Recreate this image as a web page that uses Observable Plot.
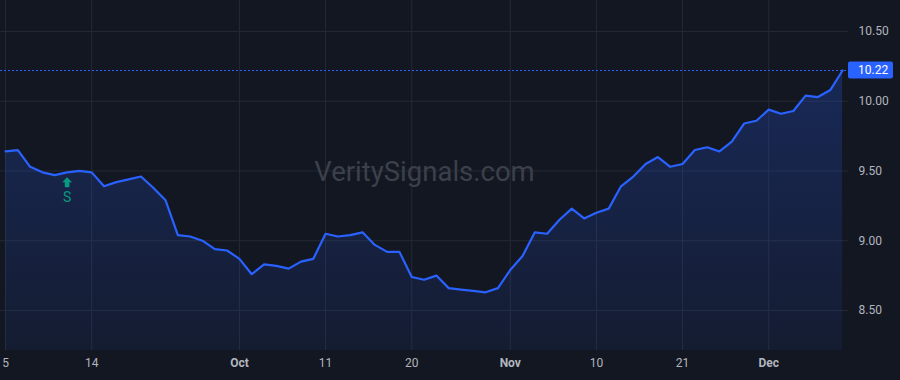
<!DOCTYPE html>
<html><head><meta charset="utf-8">
<script src="https://cdn.jsdelivr.net/npm/d3@7"></script>
<script src="https://cdn.jsdelivr.net/npm/@observablehq/plot@0.6"></script>
<style>
html,body{margin:0;padding:0;background:#131722;}
#chart{width:900px;height:380px;overflow:hidden}
</style></head><body><div id="chart"></div>
<script>
// Trading-day closes, Sep 5 – Dec 11 (one per session)
const values = [9.64, 9.65, 9.53, 9.49, 9.47, 9.49, 9.50, 9.49, 9.39, 9.42,
  9.44, 9.46, 9.38, 9.29, 9.04, 9.03, 9.00, 8.94, 8.93, 8.87,
  8.76, 8.83, 8.82, 8.80, 8.85, 8.87, 9.05, 9.03, 9.04, 9.06,
  8.97, 8.92, 8.92, 8.74, 8.72, 8.75, 8.66, 8.65, 8.64, 8.63,
  8.66, 8.79, 8.89, 9.06, 9.05, 9.15, 9.23, 9.16, 9.20, 9.23,
  9.39, 9.46, 9.55, 9.60, 9.53, 9.55, 9.65, 9.67, 9.64, 9.71,
  9.84, 9.86, 9.94, 9.91, 9.93, 10.04, 10.03, 10.08, 10.22];
const tickIndex = [0, 7, 19, 26, 33, 41, 48, 55, 62];
const tickLabels = ["5", "14", "Oct", "11", "20", "Nov", "10", "21", "Dec"];
const monthTick = [false, false, true, false, false, true, false, false, true];
const yTicks = [8.5, 9, 9.5, 10, 10.5];
const signalIndex = [5];
const signalLabels = ["S"];
const watermark = "VeritySignals.com";

const data = values.map((v, i) => ({i, v}));
const ticks = tickIndex.map((i, k) => ({i, label: tickLabels[k], month: monthTick[k]}));
const signals = signalIndex.map((i, k) => ({i, v: values[i], label: signalLabels[k]}));
const last = data[data.length - 1];
const yDomain = [8.213, 10.722];

const arrowUp = {
  draw(ctx) {
    ctx.moveTo(0, -5); ctx.lineTo(5, 0); ctx.lineTo(2.3, 0); ctx.lineTo(2.3, 5);
    ctx.lineTo(-2.3, 5); ctx.lineTo(-2.3, 0); ctx.lineTo(-5, 0); ctx.closePath();
  }
};

const chart = Plot.plot({
  width: 900, height: 380,
  marginTop: 0, marginBottom: 30, marginLeft: 0, marginRight: 52,
  style: {background: "#131722", color: "#b2b5be", fontFamily: "Roboto, 'Liberation Sans', sans-serif", fontSize: "12px"},
  x: {domain: [-0.41, values.length - 1 + 0.48], axis: null},
  y: {domain: yDomain, axis: null},
  marks: [
    Plot.ruleY(yTicks, {stroke: "#252935", strokeWidth: 1}),
    Plot.ruleX(ticks, {x: "i", stroke: "#252935", strokeWidth: 1}),
    Plot.text([watermark], {frameAnchor: "middle", fontSize: 27.5, fill: "#3c404b", dy: -3}),
    Plot.areaY(data, {x: "i", y1: yDomain[0], y2: "v", fill: "url(#areaGrad)"}),
    Plot.lineY(data, {x: "i", y: "v", stroke: "#2962ff", strokeWidth: 2.2}),
    Plot.ruleY([last], {y: "v", stroke: "#2962ff", strokeWidth: 1, strokeDasharray: "2,2"}),
    Plot.dot(signals, {x: "i", y: "v", dy: 10, symbol: arrowUp, fill: "#089981", stroke: "none", r: 5}),
    Plot.text(signals, {x: "i", y: "v", text: "label", dy: 25, fill: "#089981", fontSize: 14}),
    Plot.axisY({anchor: "right", ticks: yTicks, tickFormat: d3.format(".2f"), tickSize: 0, tickPadding: 10, fill: "#b2b5be", fontSize: 12, label: null}),
    Plot.text(ticks.filter(d => !d.month), {x: "i", text: "label", frameAnchor: "bottom", dy: 16, fill: "#b2b5be", fontSize: 12}),
    Plot.text(ticks.filter(d => d.month), {x: "i", text: "label", frameAnchor: "bottom", dy: 16, fill: "#b2b5be", fontSize: 12, fontWeight: "bold"})
  ]
});

const ns = "http://www.w3.org/2000/svg";
const defs = document.createElementNS(ns, "defs");
defs.innerHTML = `<linearGradient id="areaGrad" x1="0" y1="0" x2="0" y2="1">
  <stop offset="0" stop-color="#2962ff" stop-opacity="0.24"/>
  <stop offset="1" stop-color="#2962ff" stop-opacity="0.07"/></linearGradient>`;
chart.insertBefore(defs, chart.firstChild);

// last-price label on the price axis
const sy = chart.scale("y");
const yPix = sy.apply(last.v);
const xEdge = 900 - 52;
const g = document.createElementNS(ns, "g");
const rect = document.createElementNS(ns, "rect");
rect.setAttribute("x", xEdge); rect.setAttribute("y", yPix - 8.5);
rect.setAttribute("width", 45); rect.setAttribute("height", 17);
rect.setAttribute("rx", 2); rect.setAttribute("fill", "#2962ff");
const txt = document.createElementNS(ns, "text");
txt.setAttribute("x", xEdge + 10); txt.setAttribute("y", yPix);
txt.setAttribute("dy", "0.35em"); txt.setAttribute("fill", "#ffffff");
txt.setAttribute("text-anchor", "start");
txt.setAttribute("font-size", "12");
txt.textContent = d3.format(".2f")(last.v);
g.appendChild(rect); g.appendChild(txt);
chart.appendChild(g);

document.getElementById("chart").appendChild(chart);
</script></body></html>
